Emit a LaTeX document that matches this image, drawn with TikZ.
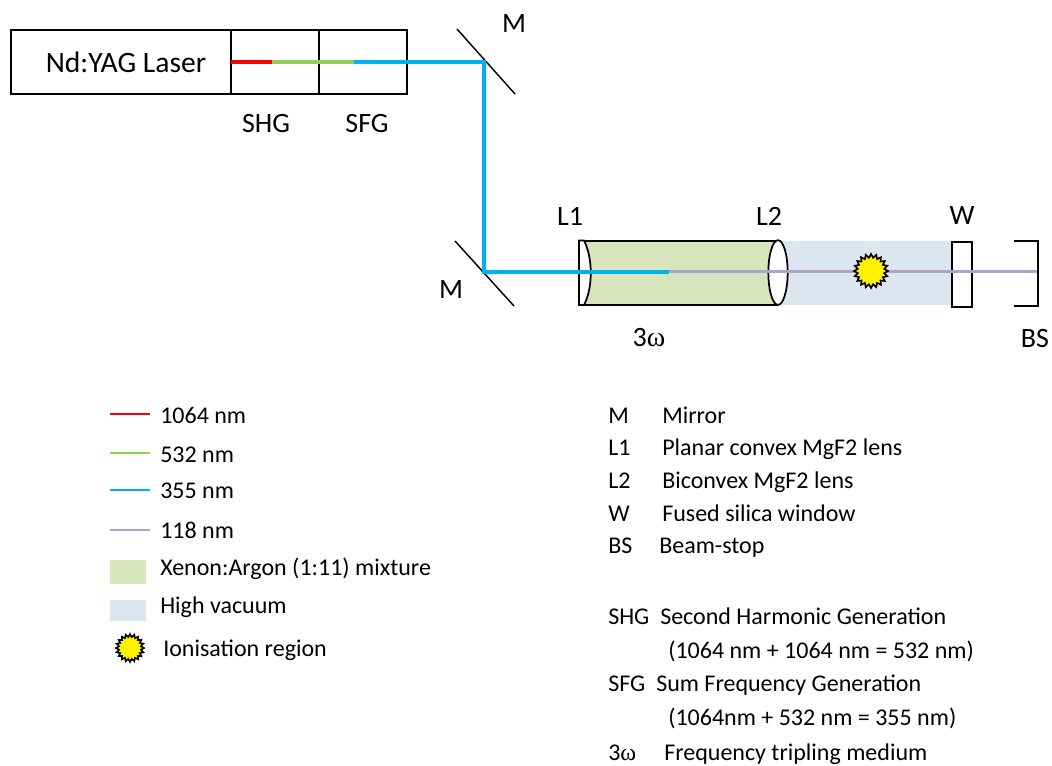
\documentclass[tikz,border=0pt]{standalone}
\usepackage{fontspec}
\usepackage{tikz}
\usetikzlibrary{shapes.geometric}
\setmainfont{Carlito}
\newfontfamily\omegafont{Liberation Serif}
\definecolor{beamred}{HTML}{FF0000}
\definecolor{beamgreen}{HTML}{92D050}
\definecolor{beamblue}{HTML}{00B0F0}
\definecolor{beampurple}{HTML}{B1A0C7}
\definecolor{gasgreen}{HTML}{D8E4BC}
\definecolor{vacblue}{HTML}{DCE6F1}
\newcommand{\threeomega}{3{\omegafont\char"03C9}}

\begin{document}
\begin{tikzpicture}[x=0.75pt, y=-0.75pt,
    part/.style={draw, line width=1.5pt, minimum height=48pt, inner sep=0pt, anchor=north west},
    optic/.style={line width=1.1pt},
    beam/.style={line width=2.3pt},
    lbl/.style={font=\fontsize{18}{21}\selectfont, inner sep=0pt, anchor=west, text height=13pt, text depth=3pt},
    tag/.style={font=\fontsize{21}{24}\selectfont, inner sep=0pt},
    spark/.style={star, star points=20, star point ratio=1.27, draw, line width=1.2pt, fill=yellow, inner sep=0pt}]

    \useasboundingbox (0,0) rectangle (1052,765);

    % Define the laser head and the two crystals
    \node[part, minimum width=165pt] (laser) at (10,29) {};
    \node[font=\fontsize{22.2}{26}\selectfont, inner sep=0pt] (laserlbl) at (126,62) {Nd:YAG Laser};
    \node[part, minimum width=66pt] (shg) at (230,29) {};
    \node[part, minimum width=66pt] (sfg) at (318,29) {};
    \node[tag] (shglbl) at (266,124) {SHG};
    \node[tag] (sfglbl) at (367,124) {SFG};

    % Gas cell and vacuum region behind the optics
    \fill[gasgreen] (582,241) rectangle (778,305);
    \fill[vacblue] (778,241) rectangle (951,305);
    \draw[optic, line width=1.5pt] (579,240.5) -- (778,240.5);
    \draw[optic, line width=1.5pt] (579,305) -- (778,305);
    \node[draw, optic, line width=1.3pt, ellipse, fill=white, minimum width=14.5pt, minimum height=48.5pt, inner sep=0pt] (lenstwo) at (778,272.5) {};
    \draw[optic, line width=1.3pt, fill=white] (579,240.5) -- (584,240.5) .. controls (593,258) and (593,288) .. (584,305) -- (579,305) -- cycle;
    \node[part, draw, fill=white, minimum width=15pt, minimum height=48.8pt] (window) at (951,240.7) {};

    % Mirrors
    \coordinate (mtopa) at (457,29);
    \coordinate (mtopb) at (515,94);
    \coordinate (mbota) at (455,241);
    \coordinate (mbotb) at (514,306);
    \draw[optic] (mtopa) -- (mtopb);
    \draw[optic] (mbota) -- (mbotb);

    % Beam-stop
    \coordinate (bsa) at (1014,241);
    \coordinate (bsb) at (1038,241);
    \coordinate (bsc) at (1038,306);
    \coordinate (bsd) at (1014,306);
    \draw[line width=1.3pt] (bsa) -- (bsb) -- (bsc) -- (bsd);

    % Beam path, colour changes where the light is converted
    \coordinate (b0) at (231,62);
    \coordinate (b1) at (272,62);
    \coordinate (b2) at (354,62);
    \coordinate (b3) at (484,62);
    \coordinate (b4) at (484,272);
    \coordinate (b5) at (669,272);
    \coordinate (b6) at (669,271.5);
    \coordinate (b7) at (1037,271.5);
    \draw[beam, beampurple, line width=2.6pt] (b6) -- (b7);
    \draw[beam, beamred] (b0) -- (b1);
    \draw[beam, beamgreen] (b1) -- (b2);
    \draw[beam, beamblue] (b2) -- (b3) -- (b4) -- (b5);
    \node[spark, minimum size=25.5pt] (focus) at (871,271) {};

    % Labels around the set-up
    \node[tag] (mone) at (514,24) {M};
    \node[tag] (mtwo) at (451,290) {M};
    \node[tag] (lone) at (570,216) {L1};
    \node[tag] (ltwo) at (769,216) {L2};
    \node[tag] (wlbl) at (962,216) {W};
    \node[tag] (bslbl) at (1035,338) {BS};
    \node[tag] (third) at (649,338) {\threeomega};

    % Legend for the wavelengths
    \coordinate (ka) at (110,414);  \coordinate (kb) at (150,414);
    \coordinate (kc) at (110,453);  \coordinate (kd) at (150,453);
    \coordinate (ke) at (110,490);  \coordinate (kf) at (150,490);
    \coordinate (kg) at (110,530);  \coordinate (kh) at (150,530);
    \draw[line width=1.8pt, beamred] (ka) -- (kb);
    \draw[line width=1.8pt, beamgreen] (kc) -- (kd);
    \draw[line width=1.8pt, beamblue] (ke) -- (kf);
    \draw[line width=1.8pt, beampurple] (kg) -- (kh);
    \node[lbl] (k1) at (160,417) {1064 nm};
    \node[lbl] (k2) at (160,456) {532 nm};
    \node[lbl] (k3) at (160,492) {355 nm};
    \node[lbl] (k4) at (160,532) {118 nm};
    \fill[gasgreen] (110,560) rectangle (146,584);
    \fill[vacblue] (110,600) rectangle (146,621);
    \node[spark, minimum size=21pt] (kstar) at (130,648) {};
    \node[lbl] (k5) at (160,569) {Xenon:Argon (1:11) mixture};
    \node[lbl] (k6) at (160,607) {High vacuum};
    \node[lbl] (k7) at (163,650) {Ionisation region};

    % Legend for the abbreviations
    \node[lbl] (a1) at (608,417) {M};      \node[lbl] (t1) at (662,417) {Mirror};
    \node[lbl] (a2) at (608,449) {L1};     \node[lbl] (t2) at (662,449) {Planar convex MgF2 lens};
    \node[lbl] (a3) at (608,482) {L2};     \node[lbl] (t3) at (662,482) {Biconvex MgF2 lens};
    \node[lbl] (a4) at (608,515) {W};      \node[lbl] (t4) at (662,515) {Fused silica window};
    \node[lbl] (a5) at (608,547) {BS};     \node[lbl] (t5) at (659,547) {Beam-stop};
    \node[lbl] (a6) at (608,618) {SHG};    \node[lbl] (t6) at (660,618) {Second Harmonic Generation};
    \node[lbl] (t7) at (668,652) {(1064 nm + 1064 nm = 532 nm)};
    \node[lbl] (a8) at (608,685) {SFG};    \node[lbl] (t8) at (656,685) {Sum Frequency Generation};
    \node[lbl] (t9) at (668,719) {(1064nm + 532 nm = 355 nm)};
    \node[lbl] (a10) at (608,754) {\threeomega}; \node[lbl] (t10) at (664,754) {Frequency tripling medium};
\end{tikzpicture}
\end{document}
